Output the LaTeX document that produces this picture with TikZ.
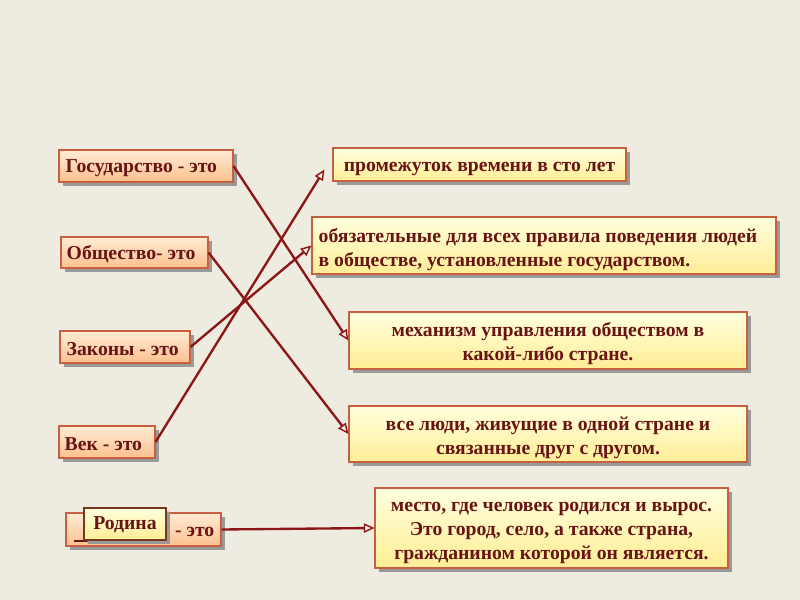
\documentclass[tikz,border=0pt]{standalone}
\usepackage{fontspec}
\setmainfont{Liberation Serif}
\usetikzlibrary{arrows.meta,shadows}
\definecolor{bg}{RGB}{238,235,224}
\definecolor{txt}{RGB}{105,20,20}
\definecolor{bord}{RGB}{200,95,65}
\definecolor{rodbord}{RGB}{120,55,30}
\definecolor{ln}{RGB}{140,22,22}
\definecolor{ortop}{RGB}{255,236,212}
\definecolor{orbot}{RGB}{252,192,142}
\definecolor{yetop}{RGB}{255,255,222}
\definecolor{yebot}{RGB}{255,238,150}
\tikzset{
  base/.style={draw=bord, line width=0.9pt, inner sep=0pt,
    drop shadow={shadow xshift=0.13cm, shadow yshift=-0.13cm, fill=black!40, opacity=1}},
  lbox/.style={base, top color=ortop, bottom color=orbot},
  rbox/.style={base, top color=yetop, bottom color=yebot},
  lab/.style={inner sep=0pt, font=\fontsize{16.8}{20}\selectfont\bfseries, text=txt, align=center},
  conn/.style={draw=ln, line width=2pt, -{Triangle[open, length=3.2mm, width=2.8mm, line width=1.2pt]}}
}
\begin{document}
\begin{tikzpicture}[x=0.03cm, y=-0.03cm]
\fill[bg] (0,0) rectangle (800,600);
\useasboundingbox (0,0) rectangle (800,600);
% left boxes
\node[lbox, minimum width=5.22cm, minimum height=0.96cm] (g) at (146,166) {};
\node[lab, anchor=west] (gt) at ([shift={(7,2)}]g.west) {Государство - это};
\node[lbox, minimum width=4.41cm, minimum height=0.93cm] (o) at (134.5,252.5) {};
\node[lab, anchor=west] (ot) at ([shift={(6,2)}]o.west) {Общество- это};
\node[lbox, minimum width=3.9cm, minimum height=0.96cm] (z) at (125,347) {};
\node[lab, anchor=west] (zt) at ([shift={(7,2)}]z.west) {Законы - это};
\node[lbox, minimum width=2.88cm, minimum height=0.96cm] (v) at (107,442) {};
\node[lab, anchor=west] (vt) at ([shift={(6,2)}]v.west) {Век - это};
\node[lbox, minimum width=4.65cm, minimum height=0.99cm] (r) at (143.5,529.5) {};
\node[lab, anchor=east] (rt) at ([shift={(-7,2)}]r.east) {- это};
\draw[txt, line width=0.9pt] (74,541) -- (168,541);
\node[rbox, draw=rodbord, minimum width=2.46cm, minimum height=0.96cm, drop shadow={shadow xshift=0.1cm, shadow yshift=-0.1cm, fill=black!40}] (rod) at (125,524) {};
\node[lab] (rodt) at ([shift={(0,1)}]rod.center) {Родина};
% right boxes
\node[rbox, minimum width=8.79cm, minimum height=0.99cm] (a) at (479.5,164.5) {};
\node[lab] (at) at ([shift={(0,4)}]a.center) {промежуток времени в сто лет};
\node[rbox, minimum width=13.92cm, minimum height=1.71cm] (b) at (544,245.5) {};
\node[lab, align=left, anchor=west] (bt) at ([shift={(7,4)}]b.west) {обязательные для всех правила поведения людей\\в обществе, установленные государством.};
\node[rbox, minimum width=11.94cm, minimum height=1.71cm] (c) at (548,340.5) {};
\node[lab] (ct) at ([shift={(0,3)}]c.center) {механизм управления обществом в\\какой-либо стране.};
\node[rbox, minimum width=11.94cm, minimum height=1.68cm] (d) at (548,434) {};
\node[lab] (dt) at ([shift={(0,4)}]d.center) {все люди, живущие в одной стране и\\связанные друг с другом.};
\node[rbox, minimum width=10.59cm, minimum height=2.4cm] (e) at (551.5,528) {};
\node[lab, font=\fontsize{16.8}{20.4}\selectfont\bfseries] (et) at ([shift={(0,5)}]e.center) {место, где человек родился и вырос.\\Это город, село, а также страна,\\гражданином которой он является.};
% connectors
\draw[conn] (g.east) -- (c.west);
\draw[conn] (o.east) -- (d.west);
\draw[conn] (z.east) -- (b.west);
\draw[conn] (v.east) -- ([shift={(-8,5)}]a.west);
\draw[conn] (r.east) -- (e.west);
\end{tikzpicture}
\end{document}
